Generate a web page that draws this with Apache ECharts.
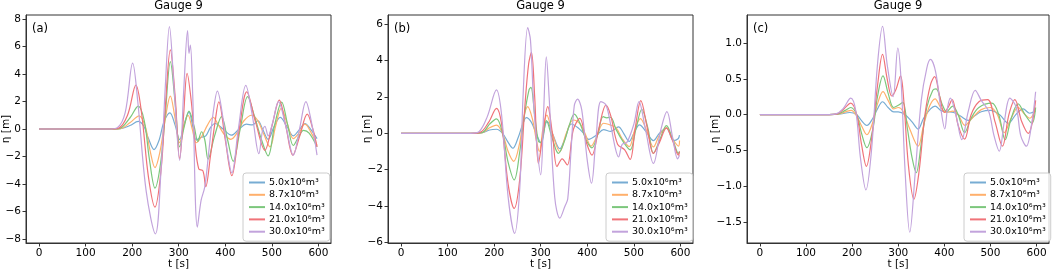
<!DOCTYPE html>
<html>
<head>
<meta charset="utf-8">
<script src="https://cdn.jsdelivr.net/npm/echarts@6/dist/echarts.min.js"></script>
<style>
  html, body { margin: 0; padding: 0; background: #fff; }
  #chart { width: 1052px; height: 270px; }
</style>
</head>
<body>
<div id="chart"></div>
<script>
// legend names (landslide volumes)
var volumeNames = ['5.0x10⁶m³', '8.7x10⁶m³', '14.0x10⁶m³', '21.0x10⁶m³', '30.0x10⁶m³'];
var panelLetters = ['(a)', '(b)', '(c)'];
var xTicks = [0, 100, 200, 300, 400, 500, 600];
var yTicksA = [-8, -6, -4, -2, 0, 2, 4, 6, 8];
var yTicksB = [-6, -4, -2, 0, 2, 4, 6];
var yTicksC = [-1.5, -1.0, -0.5, 0.0, 0.5, 1.0];

// panel (a), eta [m] vs t [s]
var a5 = [[0,0],[150,0],[175,0.02],[195,0.25],[213,0.55],[225,0.2],[235,-0.7],[247,-1.5],[258,-0.8],[268,0.5],[281,1.18],[292,0.3],[302,-0.77],[312,0.4],[322,1.23],[330,0.2],[338,-0.8],[348,-0.6],[358,-0.5],[368,0.1],[378,0.4],[395,0.0],[413,-0.45],[430,0.0],[445,0.35],[458,0.3],[470,0.6],[480,0.0],[492,-0.75],[505,0.2],[518,0.84],[532,0.2],[546,-0.5],[558,-0.1],[571,0.4],[585,-0.1],[597,-0.7]];
var a8 = [[0,0],[150,0],[175,0.03],[195,0.45],[215,0.96],[228,0.2],[238,-1.5],[249,-2.81],[260,-1.6],[270,0.5],[282,2.4],[292,0.8],[302,-1.0],[311,0.2],[320,1.0],[329,0],[338,-1.0],[350,-0.5],[362,0.3],[374,0.84],[385,0.3],[398,-0.4],[412,-0.75],[425,-0.3],[440,0.6],[457,1.0],[470,0.6],[483,-0.4],[496,-1.3],[508,0.2],[520,1.5],[533,0.4],[546,-0.7],[558,-0.3],[571,0.35],[585,-0.3],[597,-1.2]];
var a14 = [[0,0],[150,0],[172,0.03],[195,0.8],[213,1.67],[226,0.6],[237,-2.2],[249,-4.3],[261,-2.5],[271,1.0],[282,4.9],[292,2.0],[302,-1.3],[312,0.2],[322,1.3],[333,0.2],[341,-0.9],[349,-0.2],[356,-0.8],[363,-2.2],[377,-0.5],[392,0.9],[405,-0.8],[417,-2.35],[432,0],[448,2.35],[462,1.0],[478,-0.8],[492,-1.96],[506,0.3],[521,1.96],[534,0.3],[546,-1.2],[557,-0.6],[568,-0.1],[580,-0.3],[597,-1.3]];
var a21 = [[0,0],[150,0],[170,0.05],[190,1.0],[208,3.2],[220,1.2],[235,-3.5],[249,-5.69],[262,-3.0],[271,1.5],[282,5.76],[292,2.5],[302,-2.15],[310,0.8],[318,4.05],[327,2.0],[335,-1.05],[343,-2.9],[352,-3.05],[358,-4.2],[368,-2.0],[378,0.5],[386,1.98],[400,-0.8],[414,-3.4],[430,0],[446,2.7],[465,0.5],[485,-1.55],[500,0.2],[516,2.1],[530,0.2],[545,-1.9],[560,-0.5],[576,1.08],[588,0],[597,-1.3]];
var a30 = [[0,0],[150,0],[168,0.1],[185,1.2],[201,4.79],[212,2.0],[230,-4.5],[250,-7.63],[262,-3.0],[271,3.0],[280,7.46],[290,3.0],[302,-2.28],[311,3.0],[319,7.17],[322,5.5],[325,6.1],[330,2.5],[340,-7.15],[348,-5.2],[356,-4.2],[365,-1.5],[374,1.2],[383,2.76],[395,0.8],[405,-1.8],[414,-3.2],[428,0],[444,3.17],[458,1.0],[472,-1.8],[480,-0.1],[485,0.2],[492,-0.5],[502,0.5],[514,2.0],[530,0.2],[546,-1.9],[560,0.1],[573,2.0],[585,0.5],[597,-1.9]];

// panel (b)
var b5 = [[0,0],[150,0],[175,0.03],[190,0.18],[205,0.22],[218,0.0],[230,-0.5],[240,-0.82],[252,-0.2],[260,0.4],[269,0.86],[280,0.6],[290,0.0],[301,-0.55],[310,0.5],[314,0.64],[325,0],[341,-0.85],[352,-0.3],[366,0.51],[380,0.3],[392,0],[403,-0.33],[420,-0.1],[435,0.2],[450,0.1],[467,0.35],[478,0],[490,-0.45],[500,0],[512,0.46],[526,0.1],[542,-0.4],[555,0],[570,0.28],[585,-0.4],[595,-0.3],[598,-0.1]];
var b8 = [[0,0],[150,0],[175,0.04],[190,0.3],[205,0.45],[218,0.0],[230,-1.0],[242,-1.54],[255,-0.5],[262,0.7],[272,1.46],[282,0.8],[290,-0.3],[297,-1.0],[305,0.3],[313,1.0],[325,0],[341,-1.0],[355,0],[370,0.73],[385,0.5],[395,0],[408,-0.7],[420,-0.2],[435,0.55],[450,0.45],[462,0.3],[475,-0.3],[490,-0.73],[502,0.2],[514,0.8],[528,0.1],[542,-0.75],[555,-0.1],[570,0.3],[583,-0.3],[596,-0.7],[598,-0.4]];
var b14 = [[0,0],[150,0],[175,0.05],[190,0.5],[205,0.79],[218,0.0],[230,-1.6],[243,-2.56],[255,-1.0],[265,1.0],[275,2.4],[279,2.52],[287,1.0],[295,-0.45],[300,-0.5],[306,0],[312,0.7],[325,-0.3],[338,-1.1],[350,-0.5],[362,0.5],[372,1.05],[385,0.5],[398,-0.4],[410,-0.8],[422,-0.1],[434,0.91],[442,0.85],[450,0.88],[462,0.2],[478,-0.5],[492,-0.91],[505,0.3],[517,1.32],[530,0.3],[542,-1.1],[555,-0.4],[570,0.42],[583,-0.3],[596,-1.1],[598,-1.0]];
var b21 = [[0,0],[150,0],[170,0.05],[188,0.6],[205,1.37],[216,0.5],[230,-2.8],[243,-4.12],[255,-2.5],[266,1.5],[274,3.8],[280,4.44],[287,2.0],[295,-1.65],[305,0],[315,1.46],[325,0],[335,-1.83],[346,-1.4],[357,-1.74],[370,0.2],[384,0.82],[398,-0.5],[410,-1.2],[425,0.3],[440,1.55],[450,1.0],[465,-0.6],[480,-0.9],[492,-1.43],[503,0.3],[515,1.79],[528,0.4],[542,-1.1],[555,-0.5],[570,0.3],[583,-0.4],[596,-1.2],[598,-1.0]];
var b30 = [[0,0],[150,0],[168,0.1],[185,0.9],[205,2.38],[216,1.0],[230,-3.5],[244,-5.49],[255,-3.0],[262,2.0],[272,5.8],[278,5.1],[285,1.5],[293,-1.0],[300,-2.28],[306,1.0],[312,4.2],[318,2.0],[330,-3.5],[341,-4.66],[352,-4.0],[358,-3.6],[365,-1.0],[372,1.5],[379,1.87],[388,1.3],[400,-1.5],[409,-2.74],[418,-0.5],[429,1.74],[440,1.55],[450,0.5],[460,-0.8],[467,-1.3],[475,-0.6],[485,-0.5],[500,0.5],[511,1.74],[525,0.2],[542,-1.65],[558,0.2],[571,1.19],[583,-0.2],[594,-1.4],[598,-1.2]];

// panel (c)
var c5 = [[0,0],[150,0],[175,0.01],[195,0.03],[210,0.0],[220,-0.08],[232,-0.15],[245,-0.05],[255,0.08],[266,0.18],[278,0.1],[290,0.04],[300,0.04],[315,0.0],[330,-0.1],[343,-0.2],[355,-0.05],[370,0.08],[380,0.12],[392,0.06],[405,0.04],[420,0.03],[435,-0.02],[452,-0.08],[465,-0.02],[480,0.04],[500,0.06],[520,0.0],[539,-0.12],[555,0],[571,0.08],[585,0.02],[598,0.05]];
var c8 = [[0,0],[150,0],[172,0.01],[190,0.05],[198,0.06],[210,-0.02],[220,-0.15],[232,-0.28],[245,-0.1],[255,0.15],[267,0.32],[278,0.2],[290,0.08],[300,0.1],[310,0.05],[325,-0.2],[343,-0.44],[355,-0.15],[368,0.12],[380,0.22],[392,0.1],[405,0.03],[418,0.05],[430,0.0],[445,-0.15],[460,-0.05],[480,0.07],[500,0.1],[515,0.0],[530,-0.25],[545,-0.05],[560,0.1],[575,0.0],[585,-0.05],[598,0.08]];
var c14 = [[0,0],[150,0],[170,0.01],[185,0.06],[197,0.1],[210,0.0],[220,-0.25],[232,-0.46],[245,-0.2],[255,0.25],[267,0.54],[278,0.3],[290,0.1],[300,0.13],[310,0.17],[320,-0.2],[330,-0.6],[339,-0.81],[350,-0.4],[362,0.1],[375,0.34],[382,0.36],[395,0.15],[405,0.04],[418,0.12],[430,0.0],[444,-0.25],[458,-0.05],[475,0.1],[503,0.16],[518,0.0],[532,-0.35],[545,-0.05],[560,0.15],[575,0.0],[590,-0.12],[598,0.1]];
var c21 = [[0,0],[150,0],[168,0.01],[182,0.08],[197,0.16],[210,0.0],[220,-0.4],[231,-0.72],[242,-0.35],[255,0.4],[266,0.84],[276,0.5],[286,0.26],[295,0.35],[305,0.54],[312,0.2],[322,-0.7],[334,-1.18],[345,-0.8],[358,0.0],[370,0.42],[379,0.53],[390,0.25],[400,0.03],[408,0.1],[417,0.21],[430,-0.15],[444,-0.34],[458,0.0],[475,0.18],[494,0.21],[510,-0.1],[526,-0.44],[540,0.0],[553,0.21],[568,-0.1],[582,-0.26],[598,0.2]];
var c30 = [[0,0],[150,0],[165,0.01],[180,0.08],[197,0.23],[208,0.05],[218,-0.6],[230,-1.05],[242,-0.5],[255,0.7],[266,1.23],[276,0.7],[289,0.25],[299,0.93],[306,0.5],[315,-0.8],[325,-1.64],[337,-0.8],[350,0.2],[362,0.65],[370,0.77],[381,0.6],[392,0.1],[401,-0.2],[407,0.1],[413,0.23],[425,0.0],[438,-0.35],[452,0.05],[467,0.34],[480,0.2],[496,0.05],[508,-0.3],[519,-0.51],[530,-0.1],[542,0.23],[556,0.1],[566,-0.3],[578,-0.44],[590,-0.1],[598,0.32]];

var panelData = [[a5, a8, a14, a21, a30], [b5, b8, b14, b21, b30], [c5, c8, c14, c21, c30]];
var panelYTicks = [yTicksA, yTicksB, yTicksC];
var panelYRange = [[-8.3, 8.3], [-6.02, 6.49], [-1.79, 1.39]];

// tab10 colours at alpha ~0.6 on white
var colors = ['#77acd3', '#ffb06c', '#7cc77c', '#f07379', '#c2a3dc'];
var grids = [
    {left: 26, top: 15, width: 305, height: 228},
    {left: 388, top: 15, width: 305, height: 228},
    {left: 747, top: 15, width: 302, height: 228}
];
var legendLeft = [243, 606, 964];
var yNameGap = [14, 15, 26];
var font = 'DejaVu Sans';

function minus(v, dec) {
    var s = dec ? v.toFixed(dec) : String(v);
    return s.replace('-', '\u2212');
}

var chart = echarts.init(document.getElementById('chart'), null, {renderer: 'canvas'});
var xAxes = [], yAxes = [], series = [], titles = [], legends = [];

for (var p = 0; p < 3; p++) {
    var g = grids[p];
    grids[p] = {left: g.left, top: g.top, width: g.width, height: g.height,
        outerBoundsMode: 'none', containLabel: false,
        show: true, borderColor: '#333', borderWidth: 1, backgroundColor: '#fff'};
    xAxes.push({
        type: 'value', gridIndex: p, min: -28, max: 627,
        name: 't [s]', nameLocation: 'middle', nameGap: 16, nameMoveOverlap: false,
        nameTextStyle: {fontFamily: font, fontSize: 10.5, color: '#000'},
        axisLine: {show: true, onZero: false, lineStyle: {color: '#333'}},
        axisTick: {show: true, length: 3.5, customValues: xTicks, lineStyle: {color: '#333'}},
        axisLabel: {customValues: xTicks, fontFamily: font, fontSize: 10.5, color: '#000', margin: 5},
        splitLine: {show: false}
    });
    var dec = p === 2 ? 1 : 0;
    yAxes.push({
        type: 'value', gridIndex: p, min: panelYRange[p][0], max: panelYRange[p][1],
        name: 'η [m]', nameLocation: 'middle', nameGap: yNameGap[p], nameRotate: 90, nameMoveOverlap: false,
        nameTextStyle: {fontFamily: font, fontSize: 10.5, color: '#000'},
        axisLine: {show: true, onZero: false, lineStyle: {color: '#333'}},
        axisTick: {show: true, length: 3.5, customValues: panelYTicks[p], lineStyle: {color: '#333'}},
        axisLabel: {
            customValues: panelYTicks[p], fontFamily: font, fontSize: 10.5, color: '#000', margin: 5,
            formatter: (function (d) { return function (v) { return minus(v, d); }; })(dec)
        },
        splitLine: {show: false}
    });
    titles.push({
        text: 'Gauge 9', left: g.left + g.width / 2, top: 0, textAlign: 'center', padding: 0,
        textStyle: {fontFamily: font, fontSize: 11.5, fontWeight: 'normal', color: '#000'}
    });
    titles.push({
        text: panelLetters[p], left: g.left + 6, top: 23, padding: 0,
        textStyle: {fontFamily: font, fontSize: 11.5, fontWeight: 'normal', color: '#000'}
    });
    legends.push({
        data: volumeNames, orient: 'vertical', left: legendLeft[p], top: 173,
        padding: [4, 5, 4, 6], itemGap: 1.3, itemWidth: 16, itemHeight: 2, icon: 'rect',
        borderColor: '#ccc', borderWidth: 1, borderRadius: 3, backgroundColor: 'rgba(255,255,255,0.8)',
        selectedMode: false,
        textStyle: {fontFamily: font, fontSize: 9.5, color: '#000', lineHeight: 11, padding: [0, 0, 0, -1]}
    });
    for (var i = 0; i < 5; i++) {
        series.push({
            type: 'line', name: volumeNames[i], xAxisIndex: p, yAxisIndex: p,
            data: panelData[p][i], showSymbol: false, smooth: 0.35,
            lineStyle: {width: 1.2, color: colors[i]},
            itemStyle: {color: colors[i]},
            silent: true, animation: false
        });
    }
}

chart.setOption({
    animation: false,
    title: titles,
    legend: legends,
    grid: grids,
    xAxis: xAxes,
    yAxis: yAxes,
    series: series
});
</script>
</body>
</html>
